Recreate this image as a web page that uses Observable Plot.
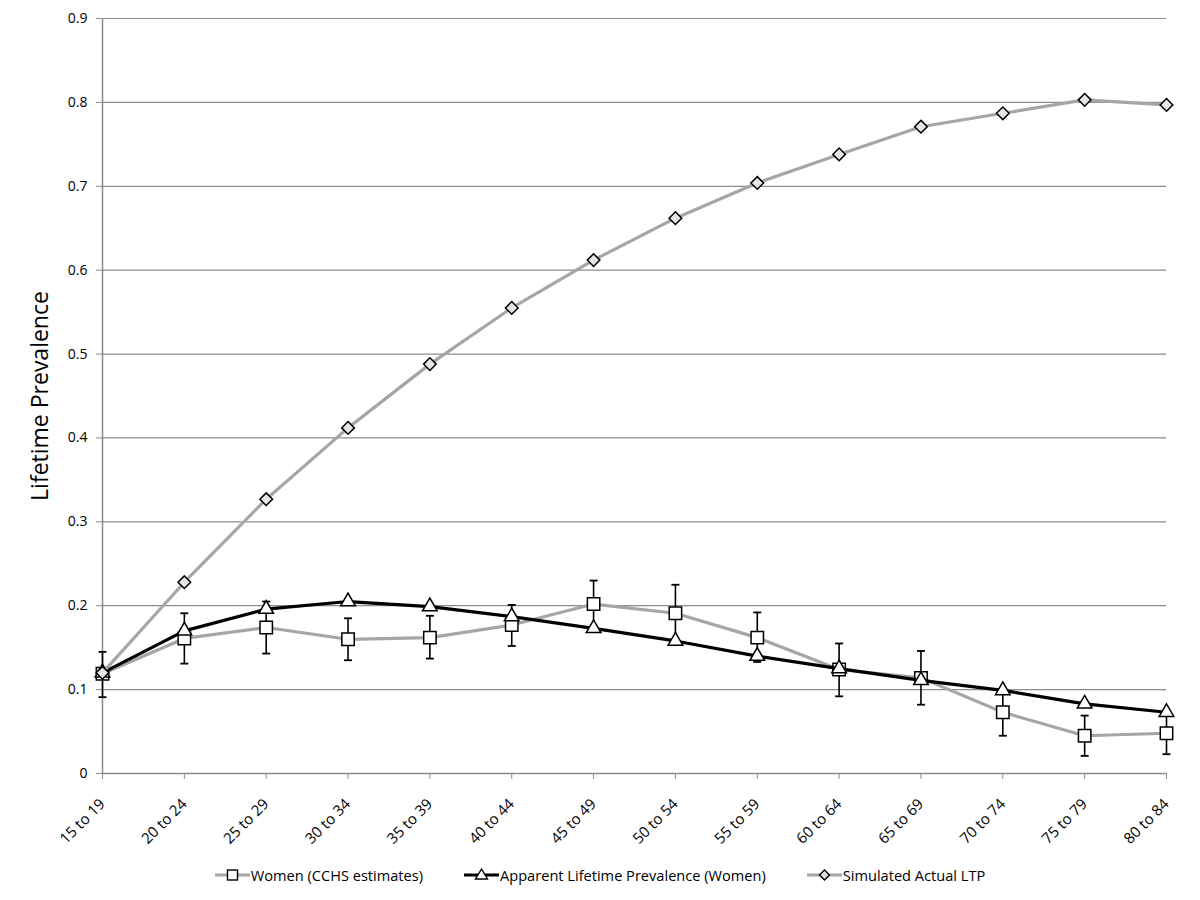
<!DOCTYPE html>
<html><head><meta charset="utf-8">
<script src="https://cdn.jsdelivr.net/npm/d3@7"></script>
<script src="https://cdn.jsdelivr.net/npm/@observablehq/plot@0.6"></script>
<style>
body{margin:0;background:#fff;font-family:"Open Sans",sans-serif;width:1200px;}
#legend{height:50px;display:flex;justify-content:center;align-items:center;gap:41px;font-size:14.6px;color:#000;}
.item{display:flex;align-items:center;}
.item svg{margin-right:1px;}
</style>
</head><body>
<div id="chart"></div>
<div id="legend"></div>
<script>
const ageGroups = ["15 to 19","20 to 24","25 to 29","30 to 34","35 to 39","40 to 44","45 to 49","50 to 54","55 to 59","60 to 64","65 to 69","70 to 74","75 to 79","80 to 84"];
const cchs      = [0.119,0.161,0.174,0.160,0.162,0.177,0.202,0.191,0.162,0.124,0.114,0.073,0.045,0.048];
const cchsLow   = [0.091,0.131,0.143,0.135,0.137,0.152,0.174,0.158,0.133,0.092,0.082,0.045,0.021,0.023];
const cchsHigh  = [0.145,0.191,0.205,0.185,0.188,0.201,0.230,0.225,0.192,0.155,0.146,0.100,0.069,0.074];
const apparent  = [0.120,0.170,0.196,0.205,0.199,0.187,0.173,0.158,0.140,0.125,0.111,0.099,0.083,0.073];
const simulated = [0.120,0.228,0.327,0.412,0.488,0.555,0.612,0.662,0.704,0.738,0.771,0.787,0.803,0.797];
const yTicks = [0,0.1,0.2,0.3,0.4,0.5,0.6,0.7,0.8,0.9];
const seriesNames = ["Women (CCHS estimates)","Apparent Lifetime Prevalence (Women)","Simulated Actual LTP"];
const yLabel = "Lifetime Prevalence";

const rows = ageGroups.map((a,i)=>({age:a, cchs:cchs[i], lo:cchsLow[i], hi:cchsHigh[i], app:apparent[i], sim:simulated[i]}));
const cap = {draw(ctx,size){const w=Math.sqrt(size);ctx.moveTo(-w/2,0);ctx.lineTo(w/2,0);}};
const gray="#a6a6a6", grid="#8c8c8c";

const chart = Plot.plot({
  width:1200, height:850,
  marginLeft:102, marginRight:34, marginTop:18, marginBottom:77,
  style:{fontFamily:"'Open Sans',sans-serif", fontSize:"13px", color:"#000", background:"#fff"},
  x:{type:"point", domain:ageGroups, padding:0, round:false, label:null},
  y:{domain:[0,0.9], label:null},
  marks:[
    Plot.ruleY(yTicks.filter(d=>d>0), {stroke:grid, strokeWidth:1.2}),
    Plot.ruleY([0], {stroke:grid, strokeWidth:1.5}),
    Plot.ruleX([ageGroups[0]], {stroke:grid, strokeWidth:1.5}),
    Plot.axisY({ticks:yTicks, tickFormat:d=>d===0?"0":d.toFixed(1), tickSize:6, tickPadding:9, stroke:grid, fontSize:14, label:null}),
    Plot.axisX({tickSize:6, tickRotate:-45, tickPadding:22, stroke:grid, fontSize:15, label:null}),
    Plot.text([yLabel], {frameAnchor:"left", textAnchor:"middle", dx:-62, rotate:-90, fontSize:23, fill:"#000"}),
    Plot.line(rows, {x:"age", y:"cchs", stroke:gray, strokeWidth:3.2}),
    Plot.ruleX(rows, {x:"age", y1:"lo", y2:"hi", stroke:"#000", strokeWidth:1.6}),
    Plot.dot(rows, {x:"age", y:"hi", symbol:cap, r:4.5, stroke:"#000", strokeWidth:1.8}),
    Plot.dot(rows, {x:"age", y:"lo", symbol:cap, r:4.5, stroke:"#000", strokeWidth:1.8}),
    Plot.dot(rows, {x:"age", y:"cchs", symbol:"square", r:7, fill:"#fff", stroke:"#000", strokeWidth:1.5}),
    Plot.line(rows, {x:"age", y:"app", stroke:"#000", strokeWidth:3.2}),
    Plot.dot(rows, {x:"age", y:"app", symbol:"triangle2", r:7, fill:"#fff", stroke:"#000", strokeWidth:1.5}),
    Plot.line(rows, {x:"age", y:"sim", stroke:gray, strokeWidth:3.2}),
    Plot.dot(rows, {x:"age", y:"sim", symbol:"diamond2", r:5.7, fill:"#e6e6e6", stroke:"#000", strokeWidth:1.5})
  ]
});
document.getElementById("chart").appendChild(chart);

// legend
const legendSpec = [
  {name:seriesNames[0], stroke:gray, shape:"square"},
  {name:seriesNames[1], stroke:"#000", shape:"triangle"},
  {name:seriesNames[2], stroke:gray, shape:"diamond"}
];
const leg = document.getElementById("legend");
for (const s of legendSpec) {
  const item = document.createElement("div"); item.className="item";
  let shape;
  if (s.shape==="square") shape = `<rect x="12.5" y="5" width="10" height="10" fill="#fff" stroke="#000" stroke-width="1.4"/>`;
  else if (s.shape==="triangle") shape = `<path d="M17.5,4 L23.5,14 L11.5,14 Z" fill="#fff" stroke="#000" stroke-width="1.4"/>`;
  else shape = `<path d="M17.5,5 L22.5,10 L17.5,15 L12.5,10 Z" fill="#ddd" stroke="#000" stroke-width="1.4"/>`;
  item.innerHTML = `<svg width="35" height="20"><line x1="0" y1="10" x2="35" y2="10" stroke="${s.stroke}" stroke-width="3"/>${shape}</svg><span>${s.name}</span>`;
  leg.appendChild(item);
}
</script>
</body></html>
